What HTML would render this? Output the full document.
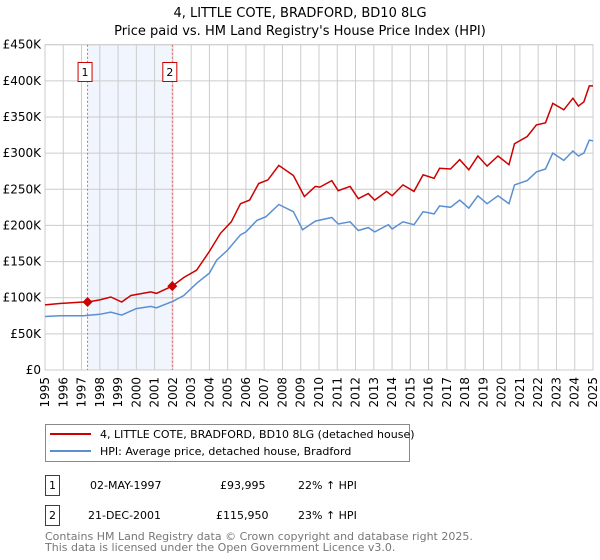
<!DOCTYPE html>
<html><head><meta charset="utf-8"><style>
body{margin:0;background:#fff;}
svg{display:block;font-family:"DejaVu Sans","Liberation Sans",sans-serif;}
</style></head><body>
<svg id="chart" width="600" height="560">
<text x="300" y="17" text-anchor="middle" font-size="13">4, LITTLE COTE, BRADFORD, BD10 8LG</text>
<text x="300" y="35" text-anchor="middle" font-size="13">Price paid vs. HM Land Registry's House Price Index (HPI)</text>
<g id="grid"></g><g id="marks"></g><g id="axes"></g>
<g>
<rect x="45.5" y="424.5" width="364" height="37" fill="#fff" stroke="#888"/>
<line x1="50" y1="434" x2="91" y2="434" stroke="#cc0000" stroke-width="2"/>
<text x="100" y="438" font-size="11">4, LITTLE COTE, BRADFORD, BD10 8LG (detached house)</text>
<line x1="50" y1="451" x2="91" y2="451" stroke="#5b8fd2" stroke-width="2"/>
<text x="100" y="455" font-size="11">HPI: Average price, detached house, Bradford</text>
</g>
<g font-size="11">
<rect x="45.5" y="475.5" width="14" height="20" fill="#fff" stroke="#cc0000"/>
<text x="52.5" y="489" text-anchor="middle">1</text>
<text x="90" y="489">02-MAY-1997</text>
<text x="220" y="489">£93,995</text>
<text x="298" y="489">22% ↑ HPI</text>
<rect x="45.5" y="505.5" width="14" height="20" fill="#fff" stroke="#cc0000"/>
<text x="52.5" y="519" text-anchor="middle">2</text>
<text x="88" y="519">21-DEC-2001</text>
<text x="216" y="519">£115,950</text>
<text x="298" y="519">23% ↑ HPI</text>
</g>
<text x="45" y="540" font-size="11" fill="#777">Contains HM Land Registry data © Crown copyright and database right 2025.</text>
<text x="45" y="551" font-size="11" fill="#777">This data is licensed under the Open Government Licence v3.0.</text>
</svg>
<script>
const yTicks=[0,50000,100000,150000,200000,250000,300000,350000,400000,450000];
const yTickLabels=["£0","£50K","£100K","£150K","£200K","£250K","£300K","£350K","£400K","£450K"];
const xYears=[1995,1996,1997,1998,1999,2000,2001,2002,2003,2004,2005,2006,2007,2008,2009,2010,2011,2012,2013,2014,2015,2016,2017,2018,2019,2020,2021,2022,2023,2024,2025];
const hpiT=[1995,1995.8,1997.1,1998,1998.6,1999.2,2000,2000.8,2001.1,2002,2002.6,2003.3,2004,2004.4,2005,2005.7,2006,2006.6,2007.1,2007.8,2008.6,2009.1,2009.8,2010.7,2011.05,2011.7,2012.15,2012.7,2013.05,2013.8,2014,2014.6,2015.2,2015.7,2016.3,2016.6,2017.2,2017.7,2018.2,2018.7,2019.2,2019.8,2020.4,2020.7,2021.4,2021.9,2022.4,2022.8,2023.4,2023.9,2024.2,2024.5,2024.8,2025];
const hpiV=[74,75,75,77,80,76,85,88,86,95,103,120,134,152,166,187,191,207,212,229,219,194,206,211,202,205,193,197,191,201,195,205,201,219,216,227,225,235,224,241,230,241,230,256,262,274,278,300,290,303,296,300,318,317];
const priceT=[1995,1995.8,1997.1,1997.33,1998,1998.6,1999.2,1999.7,2000.8,2001.1,2001.97,2002.6,2003.3,2004,2004.6,2005.2,2005.7,2006.2,2006.7,2007.2,2007.8,2008.6,2009.2,2009.8,2010.05,2010.7,2011.05,2011.7,2012.15,2012.7,2013.05,2013.7,2014,2014.6,2015.2,2015.7,2016.3,2016.6,2017.2,2017.7,2018.2,2018.7,2019.2,2019.8,2020.4,2020.7,2021.4,2021.9,2022.4,2022.8,2023.4,2023.9,2024.2,2024.5,2024.8,2025];
const priceV=[90,92,94,94,97,101,94,103,108,106,116,128,138,164,189,205,230,235,258,263,283,269,240,254,253,262,248,254,237,244,235,247,241,256,247,270,265,279,278,291,277,296,282,296,284,313,323,339,342,369,360,376,365,371,393,393];
const saleT=[1997.33,2001.97];
const saleV=[93995,115950];
const saleLabels=["1","2"];
const NS="http://www.w3.org/2000/svg";
const X0=45,X1=593,Y0=370,Y1=44.7;
const xs=t=>X0+(t-1995)/30*(X1-X0);
const ys=v=>Y0-v/450000*(Y0-Y1);
function mk(tag,attrs,parent){const e=document.createElementNS(NS,tag);for(const k in attrs)e.setAttribute(k,attrs[k]);parent.appendChild(e);return e;}
const grid=document.getElementById('grid'),marks=document.getElementById('marks'),axes=document.getElementById('axes');
const shade=mk('rect',{x:xs(saleT[0]),y:Y1,width:xs(saleT[1])-xs(saleT[0]),height:Y0-Y1,fill:'#eef3fc',opacity:0.8},grid);


yTicks.forEach((v,i)=>{
 const l=mk('line',{x1:X0,x2:X1,y1:ys(v),y2:ys(v),stroke:'#ccc'},grid);
 
 
 const t=mk('text',{x:41,y:ys(v)+4,'text-anchor':'end','font-size':12},axes);
 t.textContent=yTickLabels[i];
 
 
});
xYears.forEach(yr=>{
 const l=mk('line',{x1:xs(yr),x2:xs(yr),y1:Y1,y2:Y0,stroke:'#ccc'},grid);
 
 
 const t=mk('text',{transform:`translate(${xs(yr)+4},377) rotate(-90)`,'text-anchor':'end','font-size':12},axes);
 t.textContent=yr;
 
 
});
const frame=mk('rect',{x:X0,y:Y1,width:X1-X0,height:Y0-Y1,fill:'none',stroke:'#ccc'},grid);


saleT.forEach((t,i)=>{
 const l=mk('line',{x1:xs(t),x2:xs(t),y1:Y1,y2:Y0,stroke:'#f06060','stroke-dasharray':'2,2'},grid);
 
 
 const bx=xs(t)-10;
 const r=mk('rect',{x:bx+0.5,y:62.5,width:14,height:19,fill:'#fff',stroke:'#cc0000'},marks);
 
 
 const tx=mk('text',{x:bx+7.5,y:76,'text-anchor':'middle','font-size':11},marks);
 tx.textContent=saleLabels[i];
 
 
});
function path(T,V){return T.map((t,i)=>(i?'L':'M')+xs(t).toFixed(1)+','+ys(V[i]*1000).toFixed(1)).join(' ');}
const hp=mk('path',{d:path(hpiT,hpiV),fill:'none',stroke:'#5b8fd2','stroke-width':1.5},marks);


const pp=mk('path',{d:path(priceT,priceV),fill:'none',stroke:'#cc0000','stroke-width':1.5},marks);


saleT.forEach((t,i)=>{
 const x=xs(t),y=ys(saleV[i]);
 const d=mk('path',{d:`M${x},${y-5} L${x+5},${y} L${x},${y+5} L${x-5},${y} Z`,fill:'#cc0000'},marks);
 
 
});
</script>
</body></html>
